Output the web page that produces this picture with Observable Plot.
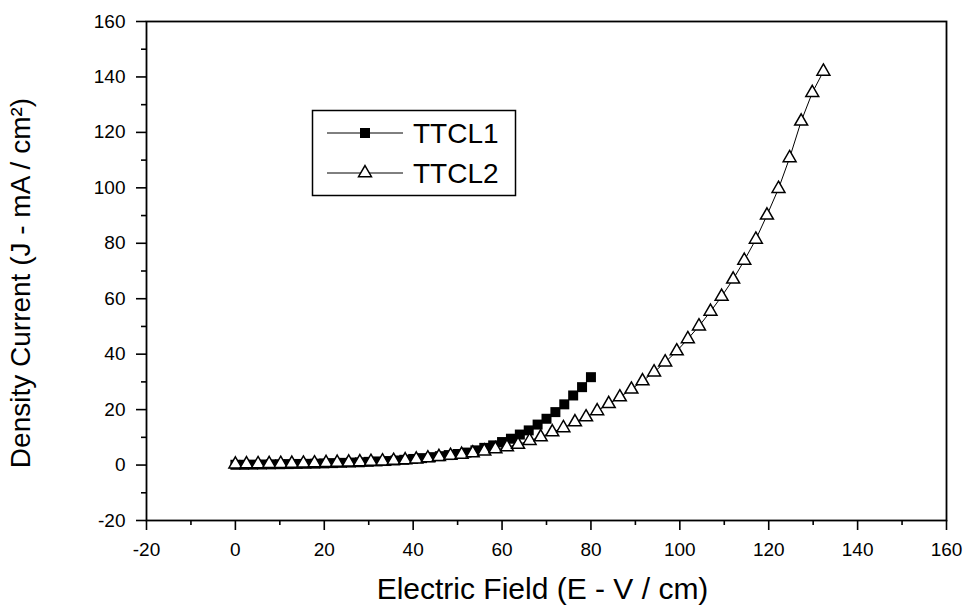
<!DOCTYPE html>
<html><head><meta charset="utf-8">
<script src="https://cdn.jsdelivr.net/npm/d3@7"></script>
<script src="https://cdn.jsdelivr.net/npm/@observablehq/plot@0.6"></script>
<style>
body{margin:0;background:#fff;}
#chart{width:968px;height:611px;}
</style></head><body><div id="chart"></div>
<script>
const seriesNames = ["TTCL1", "TTCL2"];
const xTitle = "Electric Field (E - V / cm)";
const yTitle = "Density Current (J - mA / cm\u00B2)";

const ttcl1X = [0,2,4,6,8,10,12,14,16,18,20,22,24,26,28,30,32,34,36,38,40,42,44,46,48,50,52,54,56,58,60,62,64,66,68,70,72,74,76,78,80];
const ttcl1Y = [0.1,0.1,0.15,0.2,0.25,0.3,0.35,0.4,0.45,0.5,0.6,0.7,0.8,0.9,1.0,1.15,1.3,1.45,1.65,1.9,2.2,2.5,2.85,3.2,3.6,4.0,4.5,5.3,6.2,7.1,8.3,9.5,11.0,12.5,14.6,16.7,19.1,21.9,25.1,28.1,31.7];

const ttcl2X = [0,2.5,5.1,7.6,10.2,12.7,15.3,17.8,20.4,22.9,25.5,28.0,30.5,33.1,35.6,38.2,40.7,43.3,45.8,48.4,50.9,53.4,56.0,58.5,61.1,63.6,66.2,68.7,71.3,73.8,76.4,78.9,81.4,84.0,86.5,89.1,91.6,94.2,96.7,99.3,101.8,104.3,106.9,109.4,112.0,114.5,117.1,119.6,122.2,124.7,127.3,129.8,132.3];
const ttcl2Y = [0.3,0.35,0.4,0.45,0.5,0.55,0.6,0.7,0.8,0.9,1.0,1.1,1.25,1.4,1.6,1.8,2.1,2.5,3.0,3.4,3.8,4.3,5.0,5.8,6.5,7.4,8.8,10.1,11.9,13.4,15.5,17.3,19.5,22.1,24.5,27.3,30.3,33.5,37.1,41.1,45.5,50.1,55.4,60.8,67.0,73.8,81.4,90.1,99.7,110.8,124.0,134.3,142.0];

const xMajorTicks = [-20,0,20,40,60,80,100,120,140,160];
const xMinorTicks = [-10,10,30,50,70,90,110,130,150];
const yMajorTicks = [-20,0,20,40,60,80,100,120,140,160];
const yMinorTicks = [-10,10,30,50,70,90,110,130,150];

const d1 = ttcl1X.map((x, i) => ({x, y: ttcl1Y[i]}));
const d2 = ttcl2X.map((x, i) => ({x, y: ttcl2Y[i]}));

const FONT = "'Liberation Sans', Arial, Helvetica, sans-serif";
const SQ_R = 5.64, TRI_R = 4.8;

const plot = Plot.plot({
  width: 968, height: 611,
  marginLeft: 146, marginRight: 22, marginTop: 21, marginBottom: 91,
  style: {fontFamily: FONT, fontSize: "19px", background: "white", color: "black", overflow: "visible"},
  x: {domain: [-20, 160]},
  y: {domain: [-20, 160]},
  marks: [
    Plot.axisX({ticks: xMinorTicks, tickSize: 5, text: null, label: null, strokeWidth: 1.6}),
    Plot.axisX({ticks: xMajorTicks, tickSize: 10, tickPadding: 12, label: null, strokeWidth: 1.6, tickFormat: d => String(d)}),
    Plot.axisY({ticks: yMinorTicks, tickSize: 5, text: null, label: null, strokeWidth: 1.6}),
    Plot.axisY({ticks: yMajorTicks, tickSize: 10, tickPadding: 11, label: null, strokeWidth: 1.6, tickFormat: d => String(d)}),
    Plot.frame({stroke: "black", strokeWidth: 1.8}),
    Plot.line(d1, {x: "x", y: "y", stroke: "black", strokeWidth: 1}),
    Plot.dot(d1, {x: "x", y: "y", symbol: "square", r: SQ_R, fill: "black", stroke: "none"}),
    Plot.line(d2, {x: "x", y: "y", stroke: "black", strokeWidth: 1}),
    Plot.dot(d2, {x: "x", y: "y", symbol: "triangle", r: TRI_R, fill: "white", stroke: "black", strokeWidth: 1.5}),
    Plot.text([xTitle], {frameAnchor: "bottom", dy: 69, dx: -4, fontSize: 30, textAnchor: "middle", lineAnchor: "middle"}),
    Plot.text([yTitle], {frameAnchor: "left", dx: -125, dy: 12, rotate: -90, fontSize: 28, textAnchor: "middle", lineAnchor: "middle"})
  ]
});

document.getElementById("chart").appendChild(plot);

// Legend box (drawn in pixel space inside the plot SVG)
const svg = d3.select(plot);
const lg = svg.append("g").attr("font-family", FONT);
lg.append("rect").attr("x", 312.5).attr("y", 110.5).attr("width", 203).attr("height", 85)
  .attr("fill", "white").attr("stroke", "black").attr("stroke-width", 1.5);
const rows = [
  {name: seriesNames[0], sym: d3.symbolSquare, r: SQ_R, fill: "black", stroke: "none"},
  {name: seriesNames[1], sym: d3.symbolTriangle, r: TRI_R, fill: "white", stroke: "black"}
];
rows.forEach((d, i) => {
  const cy = 133 + i * 40;
  lg.append("line").attr("x1", 327).attr("x2", 403).attr("y1", cy).attr("y2", cy)
    .attr("stroke", "black").attr("stroke-width", 1);
  lg.append("path").attr("transform", `translate(365,${cy})`)
    .attr("d", d3.symbol(d.sym, Math.PI * d.r * d.r)())
    .attr("fill", d.fill).attr("stroke", d.stroke).attr("stroke-width", 1.5);
  lg.append("text").attr("x", 413).attr("y", cy).attr("dy", "0.36em")
    .attr("text-anchor", "start")
    .attr("font-size", 28).attr("fill", "black").text(d.name);
});
</script>
</body></html>
